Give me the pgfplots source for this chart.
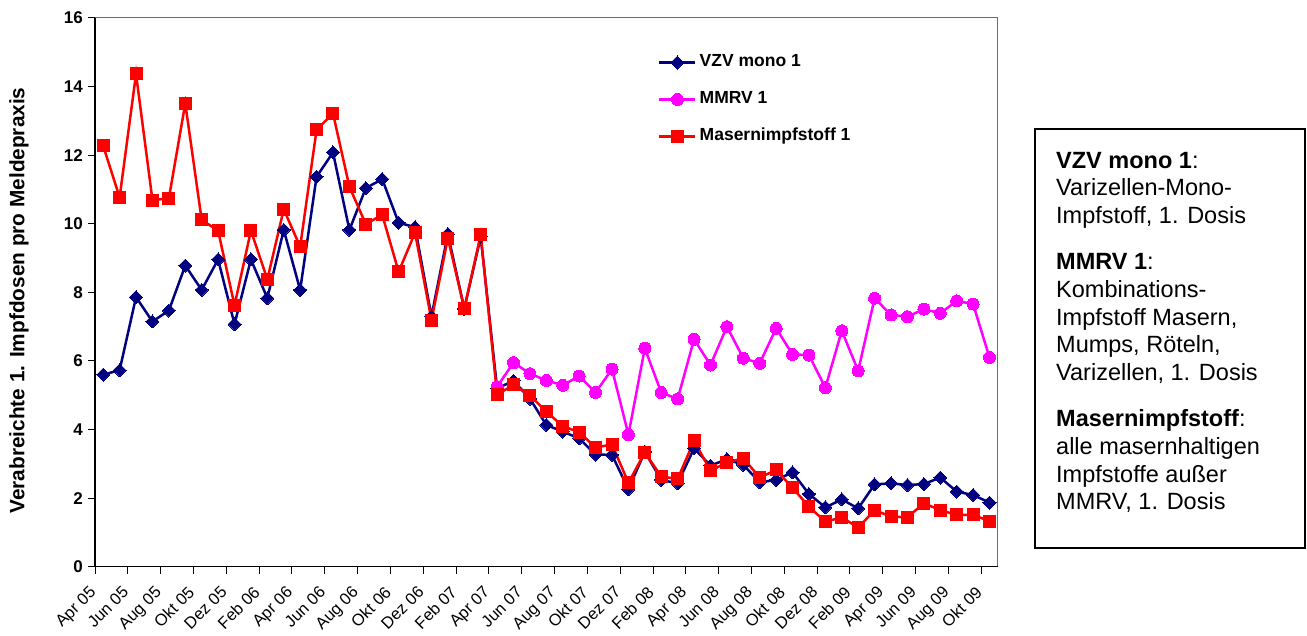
\documentclass[border=0pt]{standalone}
\usepackage{pgfplots}
\pgfplotsset{compat=1.18}
\usepackage{pgfplotstable}
\usepackage{fontspec}
\setmainfont{Liberation Sans}
\definecolor{vzv}{HTML}{000080}
\definecolor{mmrv}{HTML}{FF00FF}
\definecolor{mas}{HTML}{FF0000}
\pgfplotstableread{
i v
0 5.60
1 5.73
2 7.86
3 7.15
4 7.47
5 8.78
6 8.07
7 8.96
8 7.07
9 8.96
10 7.83
11 9.82
12 8.07
13 11.37
14 12.08
15 9.82
16 11.04
17 11.30
18 10.03
19 9.90
20 7.30
21 9.70
22 7.52
23 9.62
24 5.20
25 5.42
26 4.90
27 4.13
28 3.94
29 3.74
30 3.27
31 3.26
32 2.26
33 3.35
34 2.53
35 2.43
36 3.45
37 2.95
38 3.13
39 2.97
40 2.46
41 2.53
42 2.75
43 2.12
44 1.73
45 1.96
46 1.70
47 2.40
48 2.43
49 2.38
50 2.41
51 2.60
52 2.19
53 2.09
54 1.87
}\vzvdata
\pgfplotstableread{
i v
24 5.25
25 5.95
26 5.63
27 5.43
28 5.29
29 5.56
30 5.08
31 5.76
32 3.85
33 6.37
34 5.08
35 4.89
36 6.63
37 5.88
38 7.00
39 6.08
40 5.93
41 6.95
42 6.19
43 6.17
44 5.22
45 6.88
46 5.71
47 7.83
48 7.34
49 7.29
50 7.51
51 7.39
52 7.75
53 7.66
54 6.10
}\mmrvdata
\pgfplotstableread{
i v
0 12.27
1 10.77
2 14.37
3 10.69
4 10.74
5 13.51
6 10.11
7 9.80
8 7.62
9 9.80
10 8.38
11 10.42
12 9.33
13 12.74
14 13.22
15 11.08
16 9.99
17 10.26
18 8.60
19 9.74
20 7.19
21 9.58
22 7.53
23 9.68
24 5.02
25 5.30
26 5.00
27 4.52
28 4.10
29 3.92
30 3.48
31 3.56
32 2.45
33 3.33
34 2.63
35 2.56
36 3.67
37 2.80
38 3.04
39 3.16
40 2.60
41 2.82
42 2.30
43 1.75
44 1.31
45 1.44
46 1.14
47 1.65
48 1.46
49 1.44
50 1.85
51 1.65
52 1.51
53 1.51
54 1.33
}\masdata
\begin{document}
\begin{tikzpicture}
\path[use as bounding box] (0pt,0pt) rectangle (1307pt,636pt);
\begin{axis}[
  at={(95pt,69.3pt)}, anchor=south west,
  width=902.7pt, height=548.7pt, scale only axis,
  xmin=-0.5, xmax=54.5, ymin=0, ymax=16,
  ytick={0,2,...,16},
  xtick={0,2,...,54},
  xticklabels={Apr 05,Jun 05,Aug 05,Okt 05,Dez 05,Feb 06,Apr 06,Jun 06,Aug 06,Okt 06,Dez 06,Feb 07,Apr 07,Jun 07,Aug 07,Okt 07,Dez 07,Feb 08,Apr 08,Jun 08,Aug 08,Okt 08,Dez 08,Feb 09,Apr 09,Jun 09,Aug 09,Okt 09},
  minor xtick={-0.5,1.5,...,53.5},
  major x tick style={draw=none},
  minor x tick style={black,line width=1pt},
  y tick style={black,line width=1pt},
  major tick length=7pt, minor tick length=7pt,
  tick align=outside, tick pos=left,
  axis line style={draw=gray!85!black, line width=1pt},
  /pgf/number format/assume math mode=true,
  yticklabel style={font=\bfseries\fontsize{17}{17}\selectfont, inner sep=0pt, xshift=-5pt},
  xticklabel style={font=\fontsize{16.5}{16.5}\selectfont, rotate=45, anchor=north east, inner sep=0pt, xshift=-18.5pt, yshift=2.5pt},
  legend style={at={(0.6237,0.934)}, anchor=north west, draw=none, fill=none,
    font=\bfseries\fontsize{17.5}{17.5}\selectfont, inner sep=0pt, row sep=20.8pt, column sep=3pt,
    nodes={inner sep=0pt, text height=12.5pt, text depth=3.7pt}},
  legend cell align=left,
  legend image code/.code={\draw[mark repeat=2,mark phase=2,#1] plot coordinates {(0pt,0pt) (18pt,0pt) (36pt,0pt)};},
  clip=false,
]
\addplot[vzv, line width=2.5pt, mark=square*, mark size=4.6pt, mark options={rotate=45, fill=vzv, draw=vzv, line width=0pt}] table[x=i,y=v] {\vzvdata};
\addlegendentry{VZV mono 1}
\addplot[mmrv, line width=2.5pt, mark=*, mark size=6pt, mark options={fill=mmrv, draw=mmrv, line width=0pt}] table[x=i,y=v] {\mmrvdata};
\addlegendentry{MMRV 1}
\addplot[mas, line width=2.5pt, mark=square*, mark size=6pt, mark options={fill=mas, draw=mas, line width=0pt}] table[x=i,y=v] {\masdata};
\addlegendentry{Masernimpfstoff 1}
\draw[black, line width=1.3pt] (rel axis cs:0,1) -- (rel axis cs:0,0) -- (rel axis cs:1,0);
\end{axis}
\node[rotate=90, font=\bfseries\fontsize{20.8}{25}\selectfont] at (19pt,335.5pt) {Verabreichte 1. Impfdosen pro Meldepraxis};
\draw[black, line width=1.3pt] (1035pt,88pt) rectangle (1305pt,507pt);
\node[anchor=north west, align=left, inner sep=0pt, font=\fontsize{23.5}{27.7}\selectfont] at (1056pt,484.3pt) {%
\textbf{VZV mono 1}:\\
Varizellen-Mono-\\
Impfstoff, 1. Dosis\\[18.5pt]
\textbf{MMRV 1}:\\
Kombinations-\\
Impfstoff Masern,\\
Mumps, Röteln,\\
Varizellen, 1. Dosis\\[18.5pt]
\textbf{Masernimpfstoff}:\\
alle masernhaltigen\\
Impfstoffe außer\\
MMRV, 1. Dosis};
\end{tikzpicture}
\end{document}
